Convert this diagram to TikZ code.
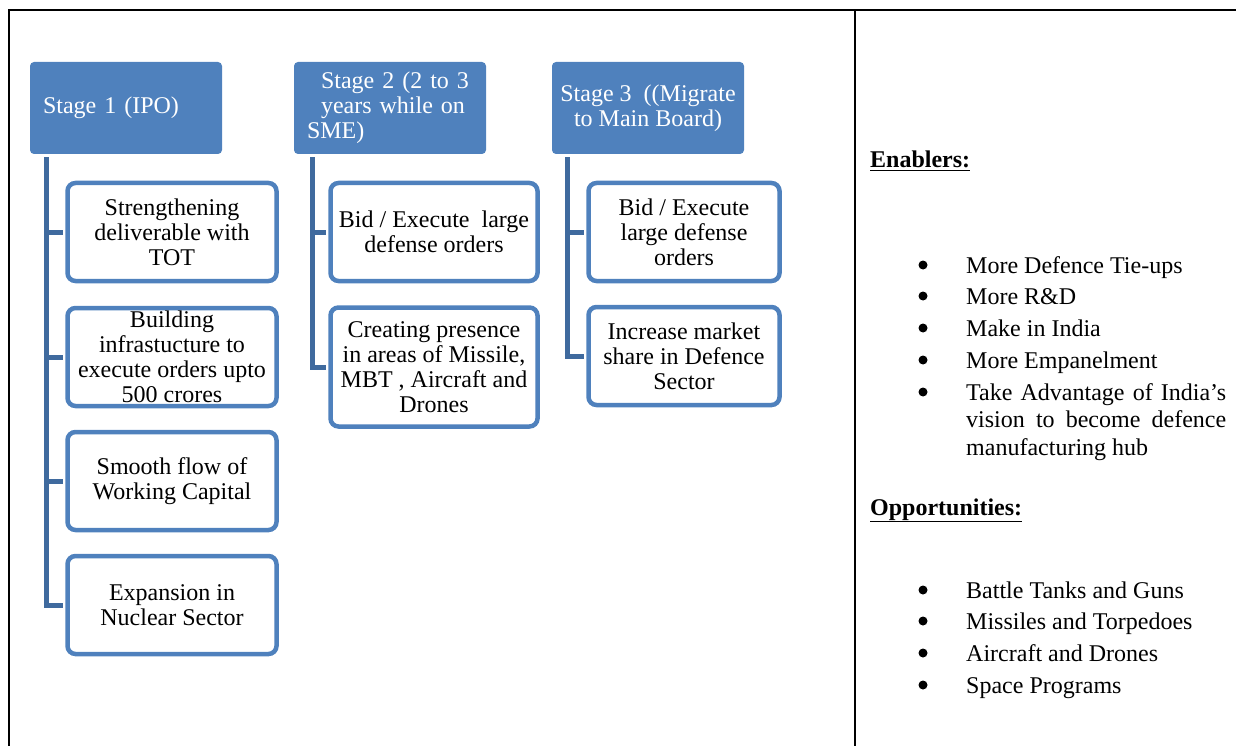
\documentclass[tikz,border=0pt]{standalone}
\usepackage{fontspec}
\setmainfont{Liberation Serif}
\usepackage{tikz}
\usetikzlibrary{calc,positioning}
\definecolor{hdblue}{RGB}{79,129,189}
\definecolor{lnblue}{RGB}{63,106,158}
\tikzset{
	stagehead/.style={fill=hdblue, rounded corners=4pt, text=white, minimum width=192pt, minimum height=92pt, inner sep=0pt, font=\fontsize{24}{25}\selectfont},
	stagebox/.style={draw=hdblue, line width=4.5pt, fill=white, rounded corners=8pt, minimum height=98pt, inner sep=0pt, align=center, font=\fontsize{24}{25}\selectfont},
	conn/.style={draw=lnblue, line width=5pt, shorten >=2.25pt},
	frame/.style={line width=2.5pt},
	sidetext/.style={anchor=base west, inner sep=0pt, font=\fontsize{24}{27.5}\selectfont},
	dot/.style={circle, fill=black, minimum size=9pt, inner sep=0pt}
}
\begin{document}
\begin{tikzpicture}[x=1pt, y=-1pt]
			%%%%% START %%%%%
			\useasboundingbox (0, 0) rectangle (1236, 746);
			
			\draw[frame] (9, 746) -- (9, 10) -- (1236, 10);
			\draw[frame] (855, 10) -- (855, 746);
			
			\node[stagehead, text width=166pt, align=left] (s1) at (126, 108) {Stage 1 (IPO)};
			\node[stagehead, text width=166pt, align=left] (s2) at (390, 108) {\hspace*{14pt}Stage 2 (2 to 3\\\hspace*{14pt}years while on\\SME)};
			\node[stagehead, align=center] (s3) at (648, 108) {Stage 3 \ ((Migrate\\to Main Board)};
			
			\node[stagebox, minimum width=209pt] (s1a) at (172, 232) {Strengthening\\deliverable with\\TOT};
			\node[stagebox, minimum width=209pt] (s1b) at (172, 357) {Building\\infrastucture to\\execute orders upto\\500 crores};
			\node[stagebox, minimum width=209pt] (s1c) at (172, 481) {Smooth flow of\\Working Capital};
			\node[stagebox, minimum width=209pt] (s1d) at (172, 605) {Expansion in\\Nuclear Sector};
			
			\node[stagebox, minimum width=207pt] (s2a) at (434, 232) {Bid / Execute \ large\\defense orders};
			\node[stagebox, minimum width=207pt, minimum height=119pt] (s2b) at (434, 367) {Creating presence\\in areas of Missile,\\MBT , Aircraft and\\Drones};
			
			\node[stagebox, minimum width=191pt] (s3a) at (684, 232) {Bid / Execute\\large defense\\orders};
			\node[stagebox, minimum width=191pt] (s3b) at (684, 356) {Increase market\\share in Defence\\Sector};
			
			\draw[conn] ($(s1.south west)+(17, 3)$) |- (s1a.west);
			\draw[conn] ($(s1.south west)+(17, 3)$) |- (s1b.west);
			\draw[conn] ($(s1.south west)+(17, 3)$) |- (s1c.west);
			\draw[conn] ($(s1.south west)+(17, 3)$) |- (s1d.west);
			\draw[conn] ($(s2.south west)+(19, 3)$) |- (s2a.west);
			\draw[conn] ($(s2.south west)+(19, 3)$) |- (s2b.west);
			\draw[conn] ($(s3.south west)+(16, 3)$) |- (s3a.west);
			\draw[conn] ($(s3.south west)+(16, 3)$) |- (s3b.west);
			
			\node[sidetext] (en) at (870, 168) {\underline{\textbf{Enablers:}}};
			\node[dot] (e1b) at (923, 265) {};
			\node[sidetext] (e1) at (966, 273) {More Defence Tie-ups};
			\node[dot] (e2b) at (923, 296) {};
			\node[sidetext] (e2) at (966, 304) {More R\&D};
			\node[dot] (e3b) at (923, 328) {};
			\node[sidetext] (e3) at (966, 336) {Make in India};
			\node[dot] (e4b) at (923, 360) {};
			\node[sidetext] (e4) at (966, 368) {More Empanelment};
			\node[dot] (e5b) at (923, 392) {};
			\node[sidetext, text width=260pt, align=justify] (e5) at (966, 400) {Take Advantage of India's\linebreak vision to become defence\linebreak manufacturing hub};
			
			\node[sidetext] (op) at (870, 515) {\underline{\textbf{Opportunities:}}};
			\node[dot] (o1b) at (923, 590) {};
			\node[sidetext] (o1) at (966, 598) {Battle Tanks and Guns};
			\node[dot] (o2b) at (923, 621) {};
			\node[sidetext] (o2) at (966, 629) {Missiles and Torpedoes};
			\node[dot] (o3b) at (923, 653) {};
			\node[sidetext] (o3) at (966, 661) {Aircraft and Drones};
			\node[dot] (o4b) at (923, 685) {};
			\node[sidetext] (o4) at (966, 693) {Space Programs};
			
			%%%%% END %%%%%
\end{tikzpicture}
\end{document}
